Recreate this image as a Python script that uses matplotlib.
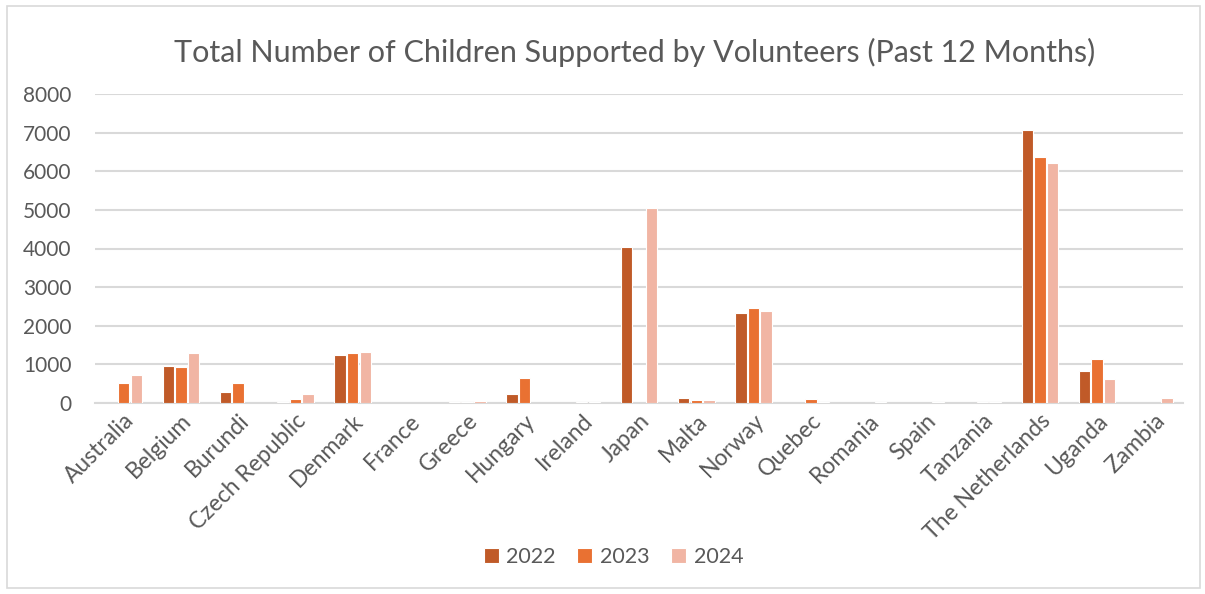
import matplotlib
matplotlib.use("Agg")
import matplotlib.pyplot as plt
import numpy as np
from matplotlib.patches import Rectangle

countries = ["Australia", "Belgium", "Burundi", "Czech Republic", "Denmark", "France",
             "Greece", "Hungary", "Ireland", "Japan", "Malta", "Norway", "Quebec",
             "Romania", "Spain", "Tanzania", "The Netherlands", "Uganda", "Zambia"]
years = ["2022", "2023", "2024"]
v2022 = [0, 965, 280, 35, 1250, 0, 35, 235, 0, 4050, 140, 2320, 0, 0, 0, 0, 7070, 820, 0]
v2023 = [505, 925, 525, 105, 1290, 0, 35, 645, 35, 0, 85, 2470, 105, 0, 0, 25, 6370, 1150, 0]
v2024 = [730, 1290, 0, 235, 1320, 0, 50, 0, 35, 5050, 70, 2380, 35, 35, 25, 25, 6220, 610, 140]
yticks = [0, 1000, 2000, 3000, 4000, 5000, 6000, 7000, 8000]
colors = ["#C05A28", "#E97132", "#F1B5A4"]

plt.rcParams["font.family"] = ["Lato", "DejaVu Sans"]
fig = plt.figure(figsize=(12.05, 5.94), dpi=100)
ax = fig.add_axes([95 / 1205, 1 - 403 / 594, (1183 - 95) / 1205, (403 - 94) / 594])

x = np.arange(len(countries))
width = 0.2
offsets = [-0.22, 0.0, 0.22]
for vals, off, col, lab in zip([v2022, v2023, v2024], offsets, colors, years):
    heights = np.array(vals, dtype=float)
    heights[heights == 0] = np.nan  # empty cells draw no bar
    ax.bar(x + off, heights, width, color=col, edgecolor="white", linewidth=0.8,
           label=lab, zorder=3)

ax.set_xlim(-0.5, len(countries) - 0.5)
ax.set_ylim(0, 8000)
ax.set_yticks(yticks)
ax.set_yticklabels([str(t) for t in yticks])
ax.yaxis.grid(True, color="#D9D9D9", linewidth=1.5, zorder=0)
ax.set_axisbelow(True)
for s in ["top", "right", "left"]:
    ax.spines[s].set_visible(False)
ax.spines["bottom"].set_color("#D9D9D9")
ax.spines["bottom"].set_linewidth(1.5)
ax.tick_params(axis="y", length=0, colors="#595959", labelsize=15, pad=17)
ax.tick_params(axis="x", length=0, colors="#595959", labelsize=16.5, pad=5)
ax.set_xticks(x)
ax.set_xticklabels(countries, rotation=45, ha="right", rotation_mode="anchor")

fig.text(0.527, 1 - 52 / 594, "Total Number of Children Supported by Volunteers (Past 12 Months)",
         ha="center", va="center", fontsize=22, color="#595959")

leg = fig.legend(loc="center", bbox_to_anchor=(0.509, 1 - 557 / 594), ncol=3, frameon=False,
                 fontsize=15.5, handlelength=0.7, handleheight=0.7, columnspacing=1.0,
                 handletextpad=0.35)
for t in leg.get_texts():
    t.set_color("#595959")

fig.patches.append(Rectangle((7 / 1205, 1 - 588 / 594), 1193 / 1205, 582 / 594,
                             transform=fig.transFigure, fill=False, edgecolor="#D9D9D9",
                             linewidth=1.2))

fig.savefig("out.png", dpi=100)
